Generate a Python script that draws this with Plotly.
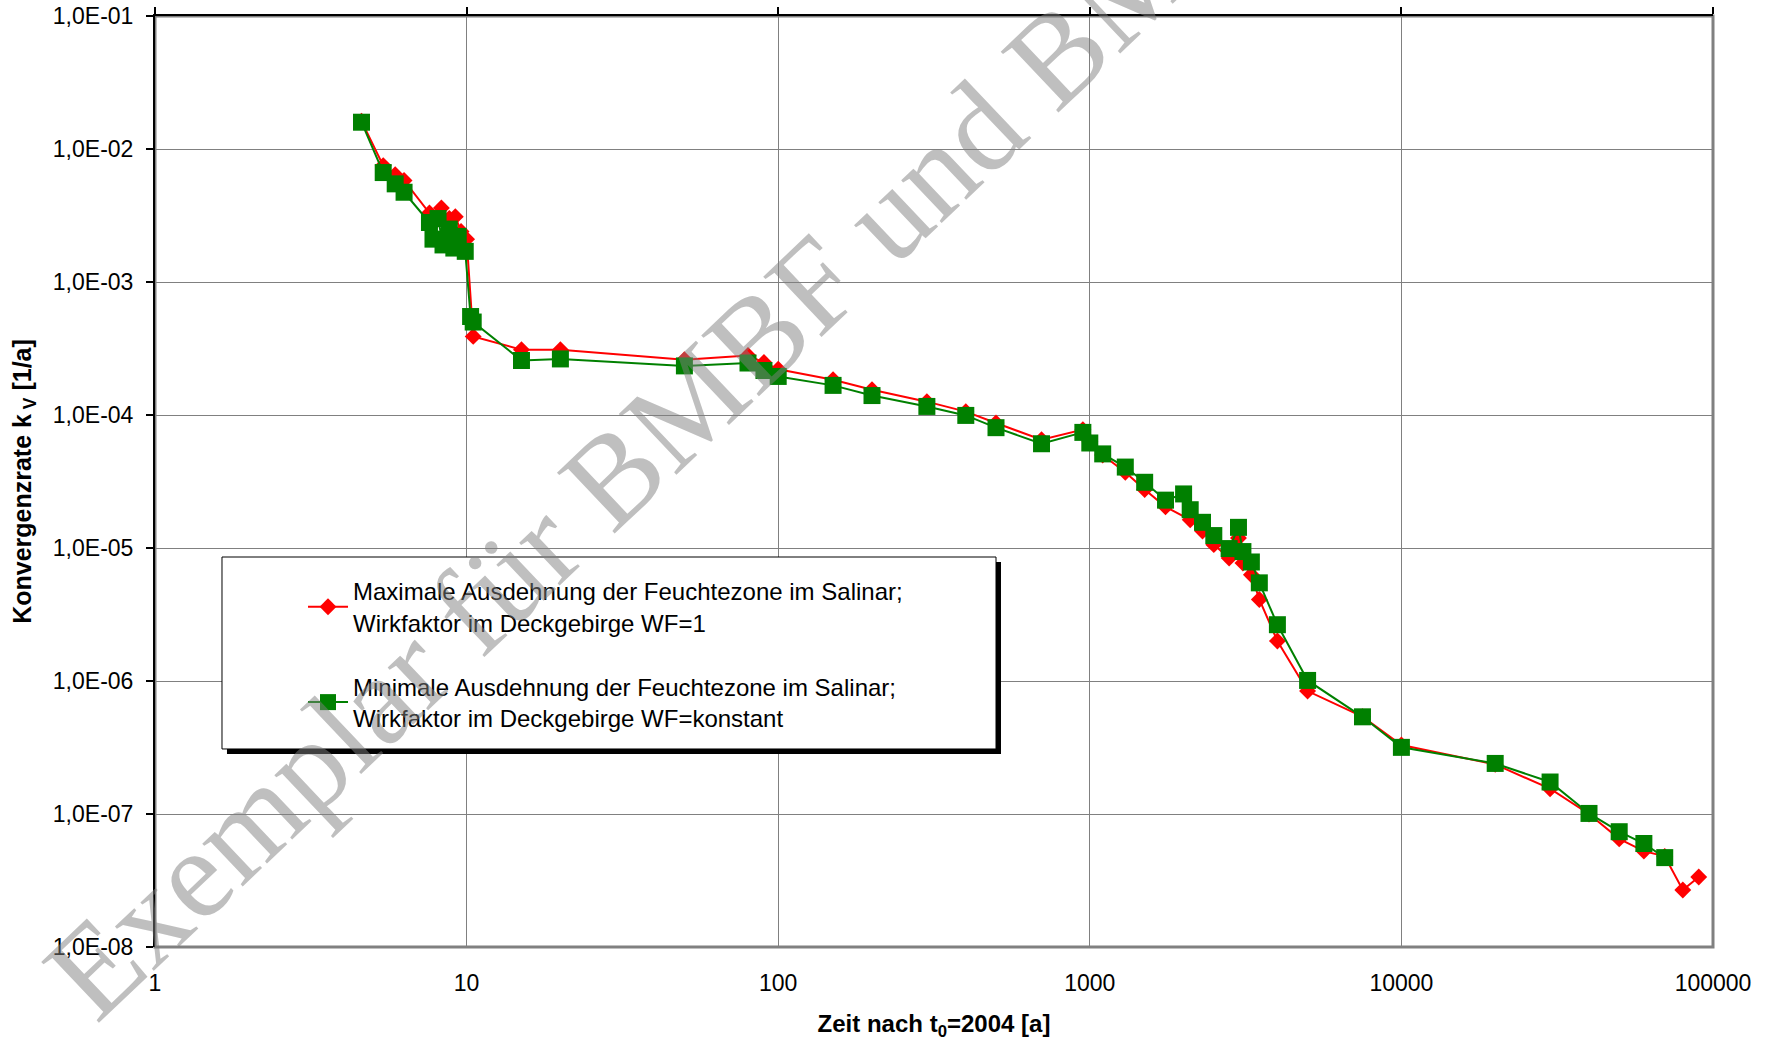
import plotly.graph_objects as go

# ---- data ----
t_max = [4.6, 5.4, 5.9, 6.3, 7.6, 8.0, 8.3, 8.8, 9.2, 9.6, 10.0, 10.5, 15, 20, 50, 80, 90, 100,
         150, 200, 300, 400, 500, 700, 950, 1000, 1100, 1300, 1500, 1750, 2100, 2300, 2500,
         2800, 3000, 3100, 3300, 3500, 4000, 5000, 7500, 10000, 20000, 30000, 40000, 50000,
         60000, 70000, 80000, 90000]
k_max = [0.0162, 0.0075, 0.0064, 0.0058, 0.0033, 0.0029, 0.0036, 0.0030, 0.0031, 0.0024, 0.0021,
         0.00039, 0.00031, 0.00031, 0.00026, 0.00028, 0.000248, 0.000221, 0.000184, 0.000155,
         0.000126, 0.000106, 8.71e-05, 6.52e-05, 7.76e-05, 6.3e-05, 5.0e-05, 3.71e-05, 2.75e-05,
         2.04e-05, 1.63e-05, 1.34e-05, 1.06e-05, 8.4e-06, 1.19e-05, 7.7e-06, 6.3e-06, 4.1e-06,
         2.0e-06, 8.4e-07, 5.4e-07, 3.3e-07, 2.36e-07, 1.55e-07, 1.0e-07, 6.5e-08, 5.26e-08,
         4.8e-08, 2.68e-08, 3.36e-08]

t_min = [4.6, 5.4, 5.9, 6.3, 7.6, 7.8, 8.1, 8.4, 8.8, 9.1, 9.4, 9.9, 10.3, 10.5, 15, 20, 50, 80,
         90, 100, 150, 200, 300, 400, 500, 700, 950, 1000, 1100, 1300, 1500, 1750, 2000, 2100,
         2300, 2500, 2800, 3000, 3100, 3300, 3500, 4000, 5000, 7500, 10000, 20000, 30000, 40000,
         50000, 60000, 70000]
k_min = [0.0159, 0.00665, 0.00547, 0.00473, 0.0028, 0.0021, 0.0030, 0.0019, 0.0025, 0.0018,
         0.0022, 0.0017, 0.00055, 0.0005, 0.000257, 0.000264, 0.000234, 0.000246, 0.000216,
         0.000195, 0.000167, 0.00014, 0.000116, 9.93e-05, 8.03e-05, 6.08e-05, 7.4e-05, 6.16e-05,
         5.1e-05, 4.06e-05, 3.12e-05, 2.29e-05, 2.55e-05, 1.94e-05, 1.56e-05, 1.24e-05, 9.9e-06,
         1.43e-05, 9.4e-06, 7.85e-06, 5.47e-06, 2.65e-06, 1.01e-06, 5.38e-07, 3.17e-07, 2.4e-07,
         1.74e-07, 1.01e-07, 7.36e-08, 6.0e-08, 4.7e-08]

name_max = "Maximale Ausdehnung der Feuchtezone im Salinar;<br>Wirkfaktor im Deckgebirge WF=1"
name_min = "Minimale Ausdehnung der Feuchtezone im Salinar;<br>Wirkfaktor im Deckgebirge WF=konstant"

x_tickvals = [1, 10, 100, 1000, 10000, 100000]
x_ticktext = ["1", "10", "100", "1000", "10000", "100000"]
y_tickvals = [1e-8, 1e-7, 1e-6, 1e-5, 1e-4, 1e-3, 1e-2, 1e-1]
y_ticktext = ["1,0E-08", "1,0E-07", "1,0E-06", "1,0E-05", "1,0E-04", "1,0E-03", "1,0E-02", "1,0E-01"]

x_title = "<b>Zeit nach t<sub>0</sub>=2004 [a]</b>"
y_title = "<b>Konvergenzrate k<sub> V</sub> [1/a]</b>"
watermark = "Exemplar für BMBF und BMWi"

FONT = "Liberation Sans, Arial, sans-serif"
GRID = "#808080"

fig = go.Figure()
fig.add_trace(go.Scatter(
    x=t_max, y=k_max, name=name_max, mode="lines+markers", legendgroup="a",
    line=dict(color="#FF0000", width=2),
    marker=dict(symbol="diamond", size=13, color="#FF0000", line=dict(width=0)),
))
fig.add_trace(go.Scatter(
    x=t_min, y=k_min, name=name_min, mode="lines+markers", legendgroup="b",
    line=dict(color="#008000", width=2),
    marker=dict(symbol="square", size=17, color="#008000", line=dict(width=0)),
))
# empty trace so that the top (black) axis line with tick marks is drawn
fig.add_trace(go.Scatter(x=[], y=[], xaxis="x2", yaxis="y", showlegend=False, hoverinfo="skip"))

fig.update_layout(
    width=1774, height=1041,
    margin=dict(l=155, r=61, t=16, b=94, autoexpand=False),
    paper_bgcolor="white", plot_bgcolor="white",
    font=dict(family=FONT, color="black", size=23),
    xaxis=dict(
        type="log", range=[0, 5], tickvals=x_tickvals, ticktext=x_ticktext,
        showgrid=True, gridcolor=GRID, gridwidth=1, zeroline=False,
        showline=False, ticks="", ticklabelstandoff=20, automargin=False,
        tickfont=dict(size=23),
        title=dict(text=x_title, font=dict(size=24, family=FONT), standoff=28),
    ),
    xaxis2=dict(
        type="log", range=[0, 5], overlaying="x", side="top", anchor="y",
        tickvals=x_tickvals, showticklabels=False, showgrid=False, zeroline=False,
        showline=True, linecolor="black", linewidth=2, ticks="outside", ticklen=7,
        tickcolor="black", tickwidth=2, automargin=False,
    ),
    yaxis=dict(
        type="log", range=[-8, -1], tickvals=y_tickvals, ticktext=y_ticktext,
        showgrid=True, gridcolor=GRID, gridwidth=1, zeroline=False,
        showline=True, linecolor="black", linewidth=2, ticks="outside", ticklen=7,
        tickcolor="black", tickwidth=2, ticklabelstandoff=8, automargin=False,
        ticklabeloverflow="allow",
        tickfont=dict(size=23),
        title=dict(text=y_title, font=dict(size=25, family=FONT), standoff=14),
    ),
    legend=dict(
        x=0.095, y=0.406, xanchor="left", yanchor="top",
        bgcolor="rgba(0,0,0,0)", borderwidth=0,
        font=dict(size=24, family=FONT), tracegroupgap=30, itemwidth=40,
    ),
    shapes=[
        dict(type="rect", xref="paper", yref="paper", x0=0, x1=1, y0=0, y1=1,
             line=dict(color=GRID, width=3), layer="below"),
        # legend frame with its shadow
        dict(type="rect", xref="paper", yref="paper", x0=0.0462, x1=0.5430, y0=0.2073, y1=0.4135,
             line=dict(width=0), fillcolor="black", layer="above"),
        dict(type="rect", xref="paper", yref="paper", x0=0.0430, x1=0.5398, y0=0.2127, y1=0.4189,
             line=dict(width=1, color="black"), fillcolor="white", layer="above"),
    ],
    annotations=[
        dict(text=watermark, xref="paper", yref="paper", x=0.333, y=0.568,
             xanchor="center", yanchor="middle",
             showarrow=False, textangle=-43.5,
             font=dict(family="Liberation Serif, Times New Roman, serif", size=128,
                       color="rgba(128,128,128,0.5)")),
    ],
)

fig.write_html("out.html", config={"displayModeBar": False},
               post_script="document.body.style.margin='0';")
